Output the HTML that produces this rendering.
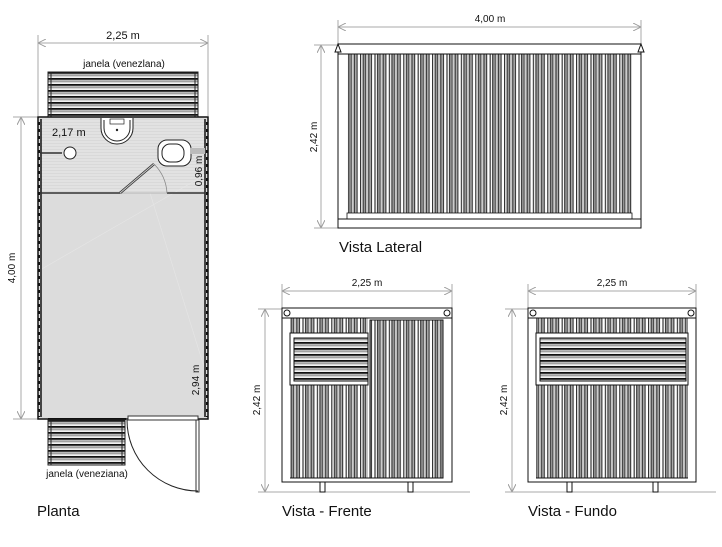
<!DOCTYPE html>
<html><head><meta charset="utf-8"><style>
body{margin:0;background:#fff}
svg{display:block}
text{font-family:"Liberation Sans",sans-serif;fill:#111}
</style></head><body>
<svg width="722" height="547" viewBox="0 0 722 547" xmlns="http://www.w3.org/2000/svg">
<defs>
<pattern id="corr" x="0" y="0" width="14.4" height="10" patternUnits="userSpaceOnUse">
<rect width="14.4" height="10" fill="#fff"/>
<rect x="0" width="1.2" height="10" fill="#333"/>
<rect x="2.6" width="1.2" height="10" fill="#222"/>
<rect x="3.8" width="1.4" height="10" fill="#999"/>
<rect x="5.2" width="1" height="10" fill="#222"/>
<rect x="6.2" width="2" height="10" fill="#ccc"/>
<rect x="8.2" width="1.2" height="10" fill="#333"/>
<rect x="9.4" width="1.6" height="10" fill="#aaa"/>
<rect x="11" width="1" height="10" fill="#222"/>
</pattern>
<pattern id="louv" x="0" y="0" width="10" height="6" patternUnits="userSpaceOnUse">
<rect width="10" height="6" fill="#fff"/>
<rect y="0" width="10" height="1.8" fill="#111"/>
<rect y="2.4" width="10" height="1.4" fill="#888"/>
<rect y="4.4" width="10" height="0.8" fill="#bbb"/>
</pattern>
<pattern id="bath" width="10" height="3" patternUnits="userSpaceOnUse">
<rect width="10" height="3" fill="#e2e2e2"/><rect y="2" width="10" height="1" fill="#d9d9d9"/>
</pattern>
<marker id="ar" viewBox="0 0 10 10" refX="10" refY="5" markerWidth="8" markerHeight="8" orient="auto-start-reverse"><path d="M0,0 L10,5 L0,10" fill="none" stroke="#999" stroke-width="1.2"/></marker>
</defs>

<!-- ===== PLANTA ===== -->
<g stroke="#aaa" stroke-width="1" fill="none">
<line x1="38" y1="43" x2="208" y2="43" marker-start="url(#ar)" marker-end="url(#ar)"/>
<line x1="38" y1="35" x2="38" y2="116"/><line x1="208" y1="35" x2="208" y2="116"/>
<line x1="21" y1="117" x2="21" y2="419" marker-start="url(#ar)" marker-end="url(#ar)"/>
<line x1="13" y1="117" x2="40" y2="117"/><line x1="13" y1="419" x2="40" y2="419"/>
</g>
<text x="123" y="39" font-size="11" text-anchor="middle">2,25 m</text>
<text x="124" y="67" font-size="10" text-anchor="middle">janela (venezlana)</text>
<text transform="translate(15,268) rotate(-90)" font-size="10" text-anchor="middle">4,00 m</text>
<rect x="48" y="72" width="150" height="45" fill="url(#louv)" stroke="#222"/>
<line x1="51" y1="72" x2="51" y2="117" stroke="#222"/><line x1="195" y1="72" x2="195" y2="117" stroke="#222"/>
<rect x="38" y="117" width="170" height="302" fill="#dcdcdc" stroke="#111" stroke-width="1.5"/>
<rect x="40" y="119" width="166" height="74" fill="url(#bath)"/>
<line x1="40" y1="270" x2="205" y2="175" stroke="#e6e6e6" stroke-width="0.6"/>
<line x1="150" y1="193" x2="205" y2="370" stroke="#e6e6e6" stroke-width="0.6"/>
<g stroke="#111" stroke-width="1.5" fill="none">
<line x1="41" y1="119" x2="41" y2="417"/><line x1="205" y1="119" x2="205" y2="417"/>
</g>
<g stroke="#111" stroke-dasharray="3,4" stroke-width="2"><line x1="39" y1="122" x2="39" y2="417"/><line x1="207" y1="122" x2="207" y2="417"/></g>
<line x1="40" y1="193" x2="120" y2="193" stroke="#333" stroke-width="1.5"/>
<line x1="167" y1="193" x2="205" y2="193" stroke="#333" stroke-width="1.5"/>
<line x1="120" y1="193" x2="167" y2="193" stroke="#aaa" stroke-width="0.8"/>
<line x1="120" y1="193" x2="154" y2="164" stroke="#333" stroke-width="2.5"/>
<line x1="120" y1="193" x2="154" y2="164" stroke="#ccc" stroke-width="1"/>
<path d="M154,164 A45,45 0 0 1 167,193" fill="none" stroke="#888" stroke-width="0.8"/>
<!-- sink -->
<path d="M101,118 L101,128 A16,16 0 0 0 133,128 L133,118" fill="#fff" stroke="#222"/>
<path d="M104,120 L104,128 A13,13 0 0 0 130,128 L130,120" fill="#fff" stroke="#222"/>
<rect x="110" y="119" width="14" height="5" fill="#fff" stroke="#222" stroke-width="0.7"/>
<circle cx="117" cy="130" r="1.2" fill="#222"/>
<line x1="40" y1="153" x2="62" y2="153" stroke="#333" stroke-width="1.5"/>
<circle cx="70" cy="153" r="6" fill="#fff" stroke="#222"/>
<text x="52" y="136" font-size="11">2,17 m</text>
<rect x="158" y="140" width="33" height="26" rx="9" fill="#fff" stroke="#222"/>
<rect x="162" y="144" width="22" height="18" rx="8" fill="#fff" stroke="#222"/>
<rect x="190" y="148" width="15" height="6" fill="#bbb"/>
<text transform="translate(202,171) rotate(-90)" font-size="10" text-anchor="middle">0,96 m</text>
<text transform="translate(199,380) rotate(-90)" font-size="10" text-anchor="middle">2,94 m</text>
<line x1="48" y1="419" x2="126" y2="419" stroke="#111" stroke-width="2"/>
<rect x="128" y="416" width="70" height="4" fill="#fff" stroke="#333"/>
<rect x="48" y="420" width="77" height="45" fill="url(#louv)" stroke="#222"/>
<line x1="51" y1="420" x2="51" y2="465" stroke="#222"/><line x1="122" y1="420" x2="122" y2="465" stroke="#222"/>
<rect x="196" y="420" width="3" height="72" fill="#fff" stroke="#333"/>
<path d="M127,420 A71,71 0 0 0 198,491" fill="none" stroke="#222"/>
<text x="87" y="477" font-size="10" text-anchor="middle">janela (veneziana)</text>
<text x="37" y="516" font-size="15">Planta</text>

<!-- ===== VISTA LATERAL ===== -->
<g stroke="#aaa" fill="none">
<line x1="338" y1="27" x2="641" y2="27" marker-start="url(#ar)" marker-end="url(#ar)"/>
<line x1="338" y1="20" x2="338" y2="44"/><line x1="641" y1="20" x2="641" y2="44"/>
<line x1="321" y1="45" x2="321" y2="228" marker-start="url(#ar)" marker-end="url(#ar)"/>
<line x1="314" y1="45" x2="338" y2="45"/><line x1="314" y1="228" x2="338" y2="228"/>
</g>
<text x="490" y="22" font-size="10" text-anchor="middle">4,00 m</text>
<text transform="translate(317,137) rotate(-90)" font-size="10" text-anchor="middle">2,42 m</text>
<rect x="338" y="44" width="303" height="184" fill="#fff" stroke="#111"/>
<rect x="347" y="54" width="285" height="165" fill="url(#corr)"/>
<line x1="338" y1="54" x2="641" y2="54" stroke="#111"/>
<rect x="347" y="213" width="285" height="6" fill="#fff" stroke="#111" stroke-width="0.8"/>
<line x1="338" y1="219" x2="641" y2="219" stroke="#111"/>
<path d="M335,52 L338,44 L341,52Z" fill="#fff" stroke="#111"/><path d="M638,52 L641,44 L644,52Z" fill="#fff" stroke="#111"/>
<text x="339" y="252" font-size="15">Vista Lateral</text>

<!-- ===== VISTA FRENTE ===== -->
<g stroke="#aaa" fill="none">
<line x1="282" y1="291" x2="452" y2="291" marker-start="url(#ar)" marker-end="url(#ar)"/>
<line x1="282" y1="284" x2="282" y2="308"/><line x1="452" y1="284" x2="452" y2="308"/>
<line x1="265" y1="309" x2="265" y2="492" marker-start="url(#ar)" marker-end="url(#ar)"/>
<line x1="258" y1="309" x2="282" y2="309"/>
<line x1="258" y1="492" x2="470" y2="492"/>
</g>
<text x="367" y="286" font-size="10" text-anchor="middle">2,25 m</text>
<text transform="translate(260,400) rotate(-90)" font-size="10" text-anchor="middle">2,42 m</text>
<rect x="282" y="308" width="170" height="174" fill="#fff" stroke="#111"/>
<rect x="290" y="318" width="78" height="160" fill="url(#corr)"/>
<rect x="370" y="320" width="73" height="158" fill="url(#corr)" stroke="#111"/>
<rect x="290" y="333" width="78" height="52" fill="#fff" stroke="#111"/>
<rect x="294" y="338" width="74" height="43" fill="url(#louv)" stroke="#111"/>
<line x1="282" y1="318" x2="452" y2="318" stroke="#111"/>
<line x1="290" y1="478" x2="443" y2="478" stroke="#111"/>
<circle cx="287" cy="313" r="3" fill="#fff" stroke="#111"/><circle cx="447" cy="313" r="3" fill="#fff" stroke="#111"/>
<rect x="320" y="482" width="5" height="10" fill="#fff" stroke="#111"/><rect x="408" y="482" width="5" height="10" fill="#fff" stroke="#111"/>
<text x="282" y="516" font-size="15">Vista - Frente</text>

<!-- ===== VISTA FUNDO ===== -->
<g stroke="#aaa" fill="none">
<line x1="528" y1="291" x2="696" y2="291" marker-start="url(#ar)" marker-end="url(#ar)"/>
<line x1="528" y1="284" x2="528" y2="308"/><line x1="696" y1="284" x2="696" y2="308"/>
<line x1="512" y1="309" x2="512" y2="492" marker-start="url(#ar)" marker-end="url(#ar)"/>
<line x1="505" y1="309" x2="528" y2="309"/>
<line x1="505" y1="492" x2="716" y2="492"/>
</g>
<text x="612" y="286" font-size="10" text-anchor="middle">2,25 m</text>
<text transform="translate(507,400) rotate(-90)" font-size="10" text-anchor="middle">2,42 m</text>
<rect x="528" y="308" width="168" height="174" fill="#fff" stroke="#111"/>
<rect x="536" y="318" width="152" height="160" fill="url(#corr)"/>
<rect x="536" y="333" width="152" height="52" fill="#fff" stroke="#111"/>
<rect x="540" y="338" width="146" height="43" fill="url(#louv)" stroke="#111"/>
<line x1="528" y1="318" x2="696" y2="318" stroke="#111"/>
<line x1="536" y1="478" x2="688" y2="478" stroke="#111"/>
<circle cx="533" cy="313" r="3" fill="#fff" stroke="#111"/><circle cx="691" cy="313" r="3" fill="#fff" stroke="#111"/>
<rect x="567" y="482" width="5" height="10" fill="#fff" stroke="#111"/><rect x="653" y="482" width="5" height="10" fill="#fff" stroke="#111"/>
<text x="528" y="516" font-size="15">Vista - Fundo</text>
</svg>
</body></html>
